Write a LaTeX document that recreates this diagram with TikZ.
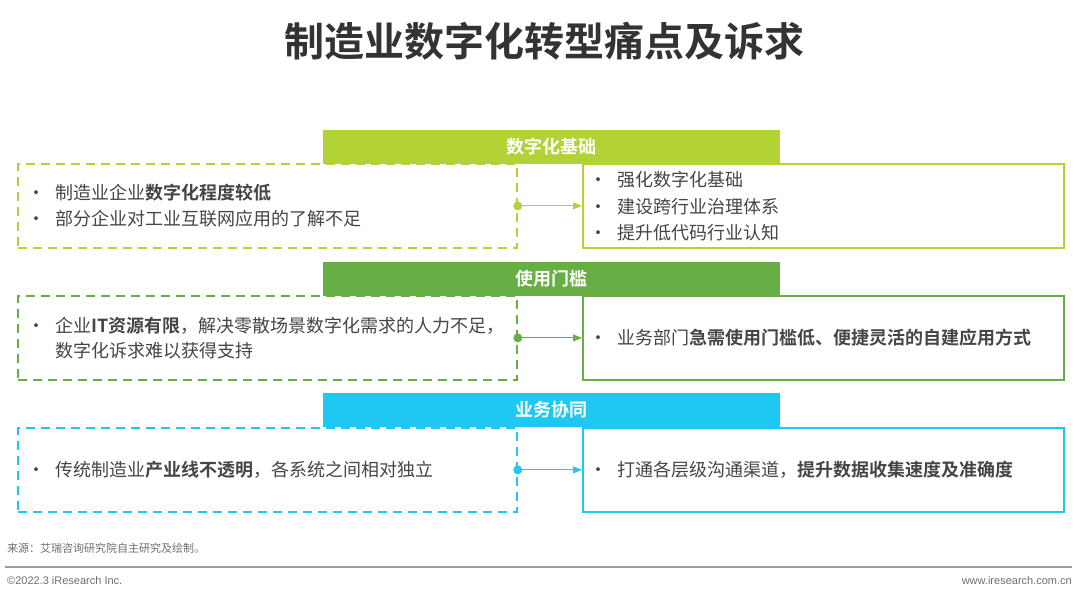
\documentclass[tikz,border=0pt]{standalone}
\usepackage{fontspec}
\setmainfont{Noto Sans CJK SC}[BoldFont={Noto Sans CJK SC Bold}]
\newfontfamily\latinfont{Liberation Sans}
\usetikzlibrary{arrows.meta}
\definecolor{gA}{HTML}{B2D235}
\definecolor{gB}{HTML}{67AE44}
\definecolor{cC}{HTML}{1FC8F0}
\definecolor{txt}{HTML}{454545}
\definecolor{ttl}{HTML}{333333}
\definecolor{foot}{HTML}{6E6E6E}
\begin{document}
\begin{tikzpicture}[x=1pt,y=-1pt,
  hdr/.style={fill=#1,draw=none,minimum width=457pt,minimum height=34pt,anchor=north west,inner sep=0pt},
  htxt/.style={text=white,font=\fontsize{18}{20}\selectfont\bfseries,inner sep=0pt},
  ldash/.style={draw=#1,dashed,dash pattern=on 9pt off 6pt,line width=1.8pt,minimum width=499pt,minimum height=84pt,anchor=north west,inner sep=0pt},
  rbox/.style={draw=#1,line width=1.8pt,minimum width=481pt,minimum height=84pt,anchor=north west,inner sep=0pt},
  bt/.style={anchor=west,inner sep=0pt,text=txt,font=\fontsize{18}{20}\selectfont},
  conn/.style={draw=#1,line width=0.9pt,-{Triangle[length=9pt,width=7pt]}},
]
\useasboundingbox (0,0) rectangle (1080,602);
% title
\node[font=\fontsize{40}{44}\selectfont\bfseries,text=ttl,inner sep=0pt] (title) at (544,41) {制造业数字化转型痛点及诉求};

% band 1
\node[ldash=gA] (L1) at (17,163) {};
\node[rbox=gA] (R1) at (582,163) {};
\node[hdr=gA] (H1) at (323,130) {};
\node[htxt] (H1t) at (551,147) {数字化基础};
\fill[gA] (L1.east) circle (4.5pt);
\draw[conn=gA] (L1.east) -- (R1.west);
\node[bt] (b11) at (27,193) {•\hspace{10pt}制造业企业\textbf{数字化程度较低}};
\node[bt] (b12) at (27,219) {•\hspace{10pt}部分企业对工业互联网应用的了解不足};
\node[bt] (b13) at (589,180) {•\hspace{10pt}强化数字化基础};
\node[bt] (b14) at (589,207) {•\hspace{10pt}建设跨行业治理体系};
\node[bt] (b15) at (589,233) {•\hspace{10pt}提升低代码行业认知};

% band 2
\node[ldash=gB] (L2) at (17,295) {};
\node[rbox=gB] (R2) at (582,295) {};
\node[hdr=gB] (H2) at (323,262) {};
\node[htxt] (H2t) at (551,279) {使用门槛};
\fill[gB] (L2.east) circle (4.5pt);
\draw[conn=gB] (L2.east) -- (R2.west);
\node[bt] (b21) at (27,326) {•\hspace{10pt}企业\textbf{IT资源有限}，解决零散场景数字化需求的人力不足，};
\node[bt] (b22) at (55,351) {数字化诉求难以获得支持};
\node[bt] (b23) at (589,338) {•\hspace{10pt}业务部门\textbf{急需使用门槛低、便捷灵活的自建应用方式}};

% band 3
\node[ldash=cC] (L3) at (17,427) {};
\node[rbox=cC] (R3) at (582,427) {};
\node[hdr=cC] (H3) at (323,393) {};
\node[htxt] (H3t) at (551,410) {业务协同};
\fill[cC] (L3.east) circle (4.5pt);
\draw[conn=cC] (L3.east) -- (R3.west);
\node[bt] (b31) at (27,470) {•\hspace{10pt}传统制造业\textbf{产业线不透明}，各系统之间相对独立};
\node[bt] (b32) at (589,470) {•\hspace{10pt}打通各层级沟通渠道，\textbf{提升数据收集速度及准确度}};

% footer
\node[anchor=west,inner sep=0pt,text=foot,font=\fontsize{11}{12}\selectfont] (src) at (7,548) {来源：艾瑞咨询研究院自主研究及绘制。};
\coordinate (fl) at (5,567);
\coordinate (fr) at (1072,567);
\draw[foot!70,line width=1.2pt] (fl) -- (fr);
\node[anchor=west,inner sep=0pt,text=foot,font=\latinfont\fontsize{11}{12}\selectfont] (cpy) at (7,581) {©2022.3 iResearch Inc.};
\node[anchor=east,inner sep=0pt,text=foot,font=\latinfont\fontsize{11}{12}\selectfont] (web) at (1072,581) {www.iresearch.com.cn};
\end{tikzpicture}
\end{document}
